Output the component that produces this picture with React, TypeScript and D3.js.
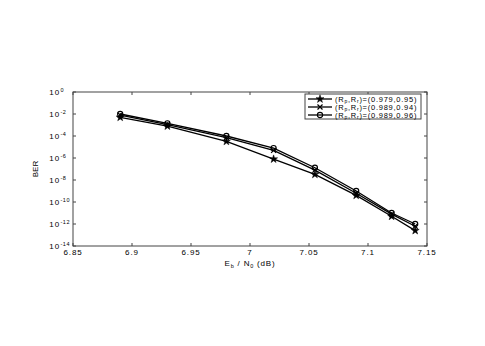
import React from "react";
import * as d3 from "d3";

// Eb/N0 (dB) sample points
const ebn0 = [6.89, 6.93, 6.98, 7.02, 7.055, 7.09, 7.12, 7.14];
// BER for each (Rp, Rr) pair
const berStar = [5.0e-3, 7.9e-4, 3.2e-5, 7.9e-7, 3.2e-8, 4.0e-10, 5.0e-12, 2.5e-13];
const berCross = [7.9e-3, 1.1e-3, 7.1e-5, 5.0e-6, 7.9e-8, 6.3e-10, 7.9e-12, 6.3e-13];
const berCircle = [1.0e-2, 1.4e-3, 1.0e-4, 7.9e-6, 1.3e-7, 1.0e-9, 1.0e-11, 1.0e-12];
const legendPairs = ["(0.979,0.95)", "(0.989,0.94)", "(0.989,0.96)"];
const xTicks = [6.85, 6.9, 6.95, 7, 7.05, 7.1, 7.15];
const yExps = [0, -2, -4, -6, -8, -10, -12, -14];

const W = 485, H = 346;
const L = 73, R = 427, T = 92, B = 246;
const FONT = "'Liberation Sans', Arial, sans-serif";

type Kind = "star" | "cross" | "circle";

function Marker({ kind, cx, cy }: { kind: Kind; cx: number; cy: number }) {
  if (kind === "circle")
    return <circle cx={cx} cy={cy} r={2.6} fill="none" stroke="#000" strokeWidth={1.1} />;
  if (kind === "cross")
    return (
      <path d={`M${cx - 2.5},${cy - 2.5}L${cx + 2.5},${cy + 2.5}M${cx - 2.5},${cy + 2.5}L${cx + 2.5},${cy - 2.5}`}
        stroke="#000" strokeWidth={1.2} />
    );
  const sym = d3.symbol(d3.symbolStar, 20)();
  return <path d={sym || ""} transform={`translate(${cx},${cy})`} fill="#000" stroke="#000" strokeWidth={0.5} />;
}

export default function App() {
  const x = d3.scaleLinear().domain([6.85, 7.15]).range([L, R]);
  const y = d3.scaleLog().domain([1e-14, 1]).range([B, T]);
  const line = d3.line<number>().x((_, i) => x(ebn0[i])).y((d) => y(d));

  const series: { kind: Kind; data: number[] }[] = [
    { kind: "star", data: berStar },
    { kind: "cross", data: berCross },
    { kind: "circle", data: berCircle },
  ];

  const lx = 305, ly = 94, lw = 116, lh = 25;

  return (
    <svg width={W} height={H} style={{ position: "absolute", left: 0, top: 0, background: "#fff" }}
      fontFamily={FONT}>
      <rect x={0} y={0} width={W} height={H} fill="#fff" />
      {/* box */}
      <rect x={L} y={T} width={R - L} height={B - T} fill="none" stroke="#444" strokeWidth={1} />
      {xTicks.map((t) => (
        <g key={t}>
          <line x1={x(t)} x2={x(t)} y1={B} y2={B - 3} stroke="#444" />
          <line x1={x(t)} x2={x(t)} y1={T} y2={T + 3} stroke="#444" />
          <text x={x(t)} y={B + 9} fontSize={8} letterSpacing={0.9} textAnchor="middle" fill="#000">{t}</text>
        </g>
      ))}
      {yExps.map((e) => (
        <g key={e}>
          <line x1={L} x2={L + 3} y1={y(Math.pow(10, e))} y2={y(Math.pow(10, e))} stroke="#444" />
          <line x1={R} x2={R - 3} y1={y(Math.pow(10, e))} y2={y(Math.pow(10, e))} stroke="#444" />
          <text x={L - 13} y={y(Math.pow(10, e)) + 3} fontSize={8} letterSpacing={0.9} textAnchor="end" fill="#000">10</text>
          <text x={L - 12.5} y={y(Math.pow(10, e)) - 0.5} fontSize={5.5} letterSpacing={0.5} textAnchor="start" fill="#000">{e}</text>
        </g>
      ))}
      <text x={(L + R) / 2} y={B + 20} fontSize={8} letterSpacing={0.8} textAnchor="middle" fill="#000">
        E<tspan fontSize={5.5} dy={2}>b</tspan><tspan dy={-2}> / N</tspan>
        <tspan fontSize={5.5} dy={2}>0</tspan><tspan dy={-2}> (dB)</tspan>
      </text>
      <text transform={`translate(${38},${(T + B) / 2}) rotate(-90)`} fontSize={8} textAnchor="middle" fill="#000">BER</text>

      {series.map((s) => (
        <g key={s.kind}>
          <path d={line(s.data) || ""} fill="none" stroke="#000" strokeWidth={1.3} />
          {s.data.map((v, i) => <Marker key={i} kind={s.kind} cx={x(ebn0[i])} cy={y(v)} />)}
        </g>
      ))}

      {/* legend */}
      <rect x={lx} y={ly} width={lw} height={lh} fill="#fff" stroke="#444" strokeWidth={1} />
      {series.map((s, i) => {
        const yy = ly + 5 + i * 8;
        return (
          <g key={s.kind}>
            <line x1={lx + 3} x2={lx + 27} y1={yy} y2={yy} stroke="#000" strokeWidth={1.3} />
            <Marker kind={s.kind} cx={lx + 15} cy={yy} />
            <text x={lx + 30} y={yy + 2.5} fontSize={7.5} letterSpacing={0.75} fill="#000">
              (R<tspan fontSize={5} dy={1.5}>p</tspan><tspan dy={-1.5}>,R</tspan>
              <tspan fontSize={5} dy={1.5}>r</tspan><tspan dy={-1.5}>)={legendPairs[i]}</tspan>
            </text>
          </g>
        );
      })}
    </svg>
  );
}
